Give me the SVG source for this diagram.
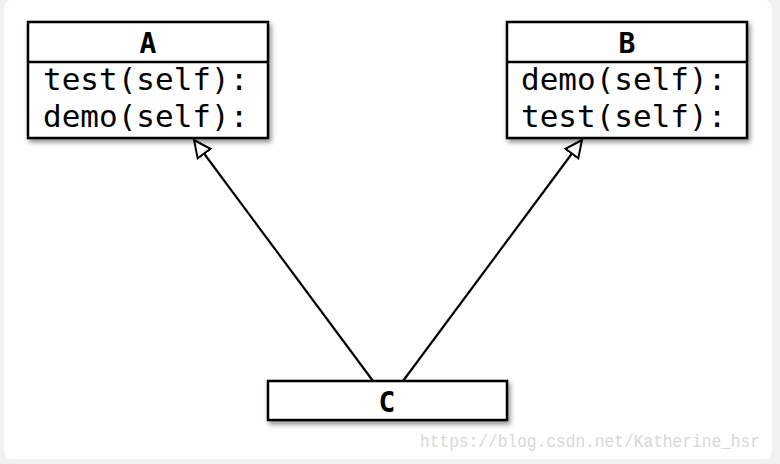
<svg xmlns="http://www.w3.org/2000/svg" width="780" height="464" viewBox="0 0 780 464">
<style>
.box{fill:#fff;stroke:#000;stroke-width:2.5}
.t{font-family:"DejaVu Sans Mono",monospace;font-size:31px;fill:#000}
.h{font-family:"DejaVu Sans Mono",monospace;font-size:28px;font-weight:bold;fill:#000;text-anchor:middle}
.edge{stroke:#000;stroke-width:2.2;fill:none;marker-end:url(#tri)}
</style>
<defs>
<filter id="sh" x="-10%" y="-10%" width="130%" height="140%">
<feDropShadow dx="2" dy="3" stdDeviation="2.5" flood-color="#000" flood-opacity="0.45"/>
</filter>
<marker id="tri" viewBox="0 0 20 20" refX="18" refY="10" markerWidth="20" markerHeight="20" markerUnits="userSpaceOnUse" orient="auto">
<path d="M1,2 L18,10 L1,18 Z" fill="#fff" stroke="#000" stroke-width="2"/>
</marker>
</defs>
<rect x="0" y="0" width="780" height="464" fill="#f1f1f1"/>
<rect x="4" y="0" width="768" height="459" rx="8" fill="#fff"/>
<g id="connectors">
<line class="edge" x1="373" y1="381" x2="194" y2="140"/>
<line class="edge" x1="403" y1="381" x2="582" y2="140"/>
</g>
<g id="A">
<rect class="box" x="28" y="22" width="240" height="116" filter="url(#sh)"/>
<line x1="28" y1="62" x2="268" y2="62" stroke="#000" stroke-width="2.5"/>
<text class="h" x="148" y="53">A</text>
<text class="t" x="43" y="90">test(self):</text>
<text class="t" x="43" y="127">demo(self):</text>
</g>
<g id="B">
<rect class="box" x="507" y="22" width="240" height="116" filter="url(#sh)"/>
<line x1="507" y1="62" x2="747" y2="62" stroke="#000" stroke-width="2.5"/>
<text class="h" x="627" y="53">B</text>
<text class="t" x="521" y="90">demo(self):</text>
<text class="t" x="521" y="127">test(self):</text>
</g>
<g id="C">
<rect class="box" x="268" y="381" width="239" height="39" filter="url(#sh)"/>
<text class="h" x="387" y="412">C</text>
</g>
<text x="420" y="447" font-family="Liberation Mono,monospace" font-size="18" fill="#d8d8d8" textLength="340" lengthAdjust="spacingAndGlyphs">https://blog.csdn.net/Katherine_hsr</text>
</svg>
